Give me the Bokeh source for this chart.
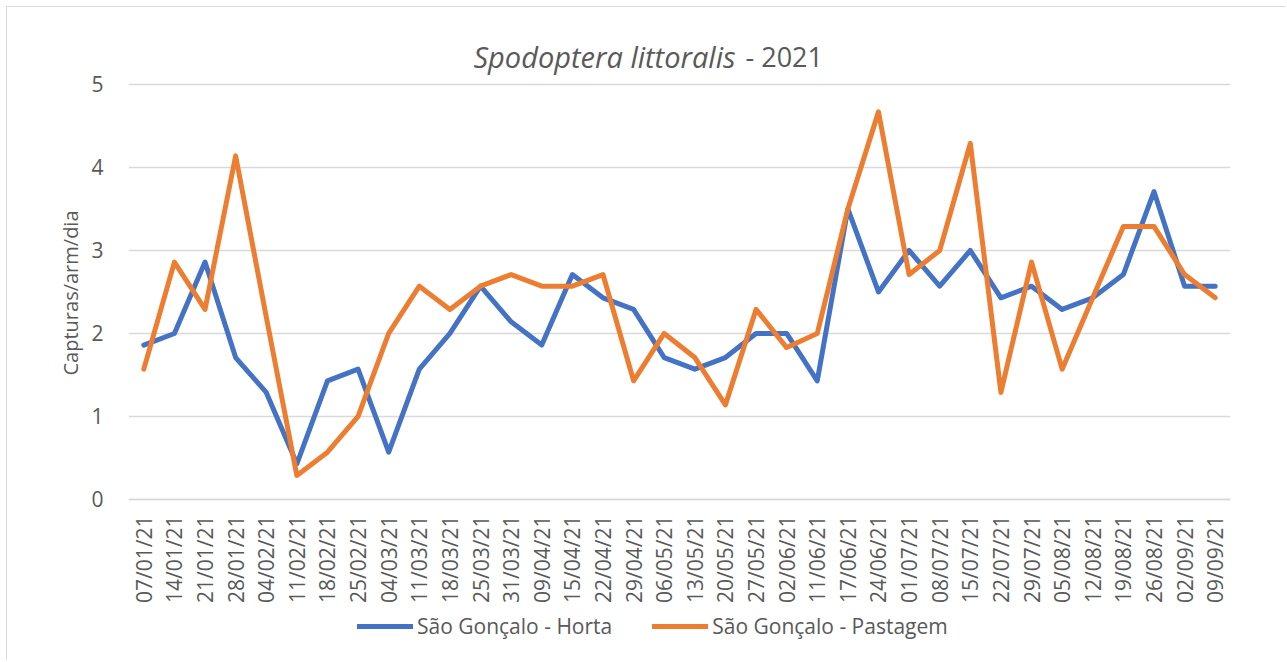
import math
from bokeh.plotting import figure
from bokeh.models import (ColumnDataSource, FactorRange, Range1d, FixedTicker,
                          Legend, LegendItem, Label, Title)
from bokeh.embed import file_html
from bokeh.resources import INLINE

dates = ["07/01/21", "14/01/21", "21/01/21", "28/01/21", "04/02/21", "11/02/21",
         "18/02/21", "25/02/21", "04/03/21", "11/03/21", "18/03/21", "25/03/21",
         "31/03/21", "09/04/21", "15/04/21", "22/04/21", "29/04/21", "06/05/21",
         "13/05/21", "20/05/21", "27/05/21", "02/06/21", "11/06/21", "17/06/21",
         "24/06/21", "01/07/21", "08/07/21", "15/07/21", "22/07/21", "29/07/21",
         "05/08/21", "12/08/21", "19/08/21", "26/08/21", "02/09/21", "09/09/21"]

horta = [1.86, 2.0, 2.86, 1.71, 1.29, 0.43, 1.43, 1.57, 0.57, 1.57, 2.0, 2.57,
         2.14, 1.86, 2.71, 2.43, 2.29, 1.71, 1.57, 1.71, 2.0, 2.0, 1.43, 3.5,
         2.5, 3.0, 2.57, 3.0, 2.43, 2.57, 2.29, 2.43, 2.71, 3.71, 2.57, 2.57]

pastagem = [1.57, 2.86, 2.29, 4.14, 2.2, 0.29, 0.57, 1.0, 2.0, 2.57, 2.29, 2.57,
            2.71, 2.57, 2.57, 2.71, 1.43, 2.0, 1.71, 1.14, 2.29, 1.83, 2.0, 3.5,
            4.67, 2.71, 3.0, 4.29, 1.29, 2.86, 1.57, 2.43, 3.29, 3.29, 2.71, 2.43]

series_names = ["São Gonçalo - Horta", "São Gonçalo - Pastagem"]
title_species = "Spodoptera littoralis"
title_year = "- 2021"
y_label = "Capturas/arm/dia"
y_ticks = [0, 1, 2, 3, 4, 5]

FONT = "Open Sans"
TXT = "#595959"
BLUE = "#4472C4"
ORANGE = "#ED7D31"
W, H = 1285, 660

src = ColumnDataSource(dict(x=dates, horta=horta, pastagem=pastagem))

x_range = FactorRange(*dates)
x_range.range_padding = 0

p = figure(width=W, height=H, x_range=x_range, y_range=Range1d(-1.94, 5.795),
           output_backend="svg", toolbar_location=None,
           min_border_left=128, min_border_right=W - 1230,
           min_border_top=18, min_border_bottom=0)
p.outline_line_color = None
p.border_fill_color = None
p.background_fill_color = None
# faint chart-area border on the left and top edges (as in the reference)
p.styles = {
    "background": ("linear-gradient(#d9d9d9,#d9d9d9) 6px 6px / 1px 100% no-repeat, "
                   "linear-gradient(#d9d9d9,#d9d9d9) 6px 6px / 100% 1px no-repeat, "
                   "white"),
}

r1 = p.line("x", "horta", source=src, line_color=BLUE, line_width=5,
            line_join="round", line_cap="round")
r2 = p.line("x", "pastagem", source=src, line_color=ORANGE, line_width=5,
            line_join="round", line_cap="round")

p.xgrid.grid_line_color = None
p.ygrid.grid_line_color = "#d9d9d9"
p.ygrid.grid_line_width = 1.3
p.yaxis.ticker = FixedTicker(ticks=y_ticks)

p.yaxis.axis_line_color = None
p.yaxis.major_tick_line_color = None
p.yaxis.minor_tick_line_color = None
p.yaxis.major_tick_out = 0
p.yaxis.major_label_standoff = 25
p.yaxis.major_label_text_font = FONT
p.yaxis.major_label_text_font_size = "21px"
p.yaxis.major_label_text_color = TXT

# value-axis title, positioned along the left side (starts ~375px from top)
yt = Title(text=y_label, align="left", offset=285, standoff=9,
           text_font=FONT, text_font_size="20px", text_font_style="normal",
           text_color=TXT)
p.add_layout(yt, "left")

p.xaxis.fixed_location = 0
p.xaxis.axis_line_color = "#d9d9d9"
p.xaxis.axis_line_width = 1.3
p.xaxis.major_tick_line_color = None
p.xaxis.minor_tick_line_color = None
p.xaxis.major_tick_out = 0
p.xaxis.major_label_standoff = 16
p.xaxis.major_label_orientation = math.pi / 2
p.xaxis.major_label_text_font = FONT
p.xaxis.major_label_text_font_size = "21px"
p.xaxis.major_label_text_color = TXT

p.add_layout(Label(x=607, y=604, x_units="screen", y_units="screen",
                   text=title_species, text_align="right",
                   text_baseline="alphabetic", text_font=FONT,
                   text_font_size="29px", text_font_style="italic",
                   text_color=TXT))
p.add_layout(Label(x=617, y=604, x_units="screen", y_units="screen",
                   text=title_year, text_align="left",
                   text_baseline="alphabetic", text_font=FONT,
                   text_font_size="27px", text_font_style="normal",
                   text_color=TXT))

legend = Legend(items=[LegendItem(label=series_names[0], renderers=[r1]),
                       LegendItem(label=series_names[1], renderers=[r2])],
                location=(229, 20), orientation="horizontal",
                glyph_width=56, glyph_height=20, label_standoff=4, spacing=40,
                padding=0, margin=0, border_line_color=None,
                background_fill_alpha=0,
                label_text_font=FONT, label_text_font_size="21px",
                label_text_color=TXT)
p.add_layout(legend, "center")

open("out.html", "w").write(file_html(p, INLINE))
